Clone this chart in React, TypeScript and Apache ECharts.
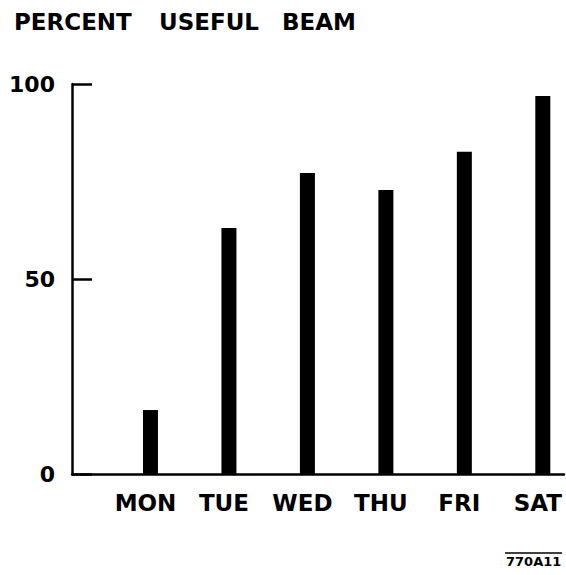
import React, { useEffect, useRef } from "react";
import * as echarts from "echarts";

const days = ["MON", "TUE", "WED", "THU", "FRI", "SAT"];
const usefulBeam = [16.4, 63.1, 77.2, 72.8, 82.6, 96.9];
const yTicks = [0, 50, 100];
const titleWords = ["PERCENT", "USEFUL", "BEAM"];
const figureCode = "770A11";

const FONT = "DejaVu Sans";

export default function App() {
  const ref = useRef<HTMLDivElement>(null);
  useEffect(() => {
    if (!ref.current) return;
    const chart = echarts.init(ref.current, null, { renderer: "svg" });
    const wordLeft = [14, 159, 282];
    chart.setOption({
      animation: false,
      backgroundColor: "#ffffff",
      grid: { left: 72, right: 2, top: 84, bottom: 101, containLabel: false },
      xAxis: {
        type: "value",
        min: 0,
        max: 6.27,
        interval: 1,
        splitLine: { show: false },
        axisTick: { show: false },
        axisLine: { show: true, lineStyle: { color: "#000", width: 2.5 } },
        axisLabel: {
          color: "#000",
          fontFamily: FONT,
          fontWeight: "bold",
          fontSize: 23,
          margin: 17,
          padding: [0, 10, 0, 0],
          showMaxLabel: false,
          formatter: (v: number) => {
            const i = Math.round(v);
            if (Math.abs(v - i) > 1e-6 || i < 1 || i > days.length) return "";
            return days[i - 1];
          },
        },
      },
      yAxis: {
        type: "value",
        min: yTicks[0],
        max: yTicks[yTicks.length - 1],
        interval: yTicks[1] - yTicks[0],
        splitLine: { show: false },
        axisLine: { show: true, lineStyle: { color: "#000", width: 2.5 } },
        axisTick: { show: true, inside: true, length: 20, lineStyle: { color: "#000", width: 2.5 } },
        axisLabel: {
          color: "#000",
          fontFamily: FONT,
          fontWeight: "bold",
          fontSize: 22,
          margin: 17,
          padding: [0, 0, 6, 0],
        },
      },
      series: [
        {
          type: "bar",
          barWidth: 15,
          itemStyle: { color: "#000" },
          data: usefulBeam.map((v, i) => [i + 1, v]),
        },
      ],
      graphic: [
        ...titleWords.map((w, i) => ({
          type: "text",
          left: wordLeft[i],
          top: 10,
          style: { text: w, fill: "#000", font: `bold 23px "${FONT}"` },
        })),
        {
          type: "text",
          left: 506,
          top: 555,
          style: { text: figureCode, fill: "#000", font: `bold 13px "${FONT}"` },
        },
        {
          type: "line",
          shape: { x1: 505, y1: 553, x2: 562, y2: 553 },
          style: { stroke: "#000", lineWidth: 1.5 },
        },
      ],
    });
    return () => chart.dispose();
  }, []);
  return (
    <div
      ref={ref}
      style={{ position: "absolute", left: 0, top: 0, width: 566, height: 575 }}
    />
  );
}
